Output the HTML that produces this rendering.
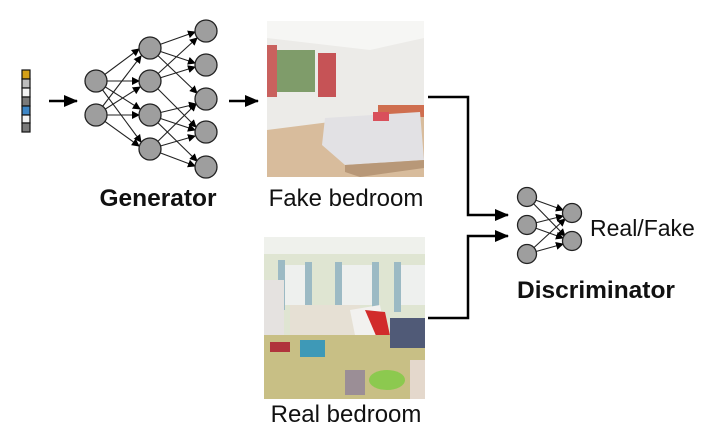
<!DOCTYPE html>
<html><head><style>
body{margin:0;background:#fff;width:711px;height:426px;overflow:hidden}
text{font-family:"Liberation Sans",Arial,sans-serif;fill:#111}
</style></head><body>
<svg width="711" height="426" viewBox="0 0 711 426">
<defs>
<marker id="a" markerWidth="8" markerHeight="8" refX="7" refY="4" orient="auto" markerUnits="userSpaceOnUse"><path d="M0,0 L8,4 L0,8z" fill="#000"/></marker>
<marker id="A" markerWidth="14" markerHeight="12" refX="13" refY="6" orient="auto" markerUnits="userSpaceOnUse"><path d="M0,0 L14,6 L0,12z" fill="#000"/></marker>
</defs>
<g stroke="#111" stroke-width="1.2">
<rect x="22" y="70" width="8" height="9" fill="#d4a017"/>
<rect x="22" y="79" width="8" height="9" fill="#bdbdbd"/>
<rect x="22" y="88" width="8" height="9" fill="#f2f2f2"/>
<rect x="22" y="97" width="8" height="9" fill="#7a7a7a"/>
<rect x="22" y="106" width="8" height="9" fill="#3d86c6"/>
<rect x="22" y="115" width="8" height="8" fill="#f2f2f2"/>
<rect x="22" y="123" width="8" height="9" fill="#7a7a7a"/>
</g>
<line x1="49" y1="101" x2="77" y2="101" stroke="#000" stroke-width="2.5" marker-end="url(#A)"/>
<line x1="229" y1="101" x2="258" y2="101" stroke="#000" stroke-width="2.5" marker-end="url(#A)"/>
<g stroke="#222" stroke-width="1.1" marker-end="url(#a)">
<line x1="96" y1="81" x2="139" y2="49"/><line x1="96" y1="81" x2="139" y2="81"/><line x1="96" y1="81" x2="140" y2="109"/><line x1="96" y1="81" x2="141" y2="142"/>
<line x1="96" y1="115" x2="141" y2="56"/><line x1="96" y1="115" x2="140" y2="87"/><line x1="96" y1="115" x2="139" y2="115"/><line x1="96" y1="115" x2="139" y2="146"/>
<line x1="150" y1="48" x2="195" y2="32"/><line x1="150" y1="48" x2="195" y2="63"/><line x1="150" y1="48" x2="197" y2="93"/>
<line x1="150" y1="81" x2="197" y2="38"/><line x1="150" y1="81" x2="195" y2="67"/><line x1="150" y1="81" x2="196" y2="127"/>
<line x1="150" y1="115" x2="196" y2="104"/><line x1="150" y1="115" x2="195" y2="130"/><line x1="150" y1="115" x2="197" y2="161"/>
<line x1="150" y1="149" x2="196" y2="104"/><line x1="150" y1="149" x2="195" y2="136"/><line x1="150" y1="149" x2="195" y2="166"/>
</g>
<g fill="#9e9e9e" stroke="#222" stroke-width="1.3">
<circle cx="96" cy="81" r="11"/><circle cx="96" cy="115" r="11"/>
<circle cx="150" cy="48" r="11"/><circle cx="150" cy="81" r="11"/><circle cx="150" cy="115" r="11"/><circle cx="150" cy="149" r="11"/>
<circle cx="206" cy="31" r="11"/><circle cx="206" cy="65" r="11"/><circle cx="206" cy="99" r="11"/><circle cx="206" cy="132" r="11"/><circle cx="206" cy="167" r="11"/>
</g>
<text x="158" y="206" font-size="24.5" font-weight="bold" text-anchor="middle">Generator</text>
<g>
<rect x="267" y="21" width="157" height="156" fill="#ecebe8"/>
<polygon points="267,21 424,21 424,38 370,50 267,38" fill="#f6f6f4"/>
<rect x="275" y="50" width="40" height="42" fill="#7f9c6a"/>
<rect x="267" y="45" width="10" height="52" fill="#c9615e"/>
<rect x="318" y="53" width="18" height="44" fill="#c65356"/>
<polygon points="267,130 424,110 424,177 267,177" fill="#d8bc9c"/>
<rect x="378" y="105" width="46" height="12" fill="#cf6e4f"/>
<polygon points="325,118 420,112 424,160 345,165 322,145" fill="#e2e1e4"/>
<rect x="373" y="112" width="16" height="9" fill="#d9505b"/>
<polygon points="345,165 424,160 424,168 360,177 345,172" fill="#b89878"/>
</g>
<text x="346" y="206" font-size="24" text-anchor="middle">Fake bedroom</text>
<g>
<rect x="264" y="237" width="161" height="162" fill="#dfe5d2"/>
<rect x="264" y="237" width="161" height="17" fill="#eff1ec"/>
<rect x="284" y="265" width="28" height="40" fill="#eef0ee"/>
<rect x="342" y="265" width="30" height="40" fill="#eef0ee"/>
<rect x="400" y="265" width="25" height="40" fill="#eef0ee"/>
<rect x="278" y="260" width="7" height="50" fill="#9cbac4"/>
<rect x="305" y="262" width="7" height="50" fill="#9cbac4"/>
<rect x="335" y="262" width="7" height="50" fill="#9cbac4"/>
<rect x="372" y="262" width="7" height="50" fill="#9cbac4"/>
<rect x="394" y="262" width="7" height="50" fill="#9cbac4"/>
<rect x="264" y="280" width="20" height="55" fill="#e5e2e0"/>
<rect x="290" y="305" width="70" height="30" fill="#e6e0d4"/>
<polygon points="350,310 380,305 390,355 360,360" fill="#f2f1ef"/>
<polygon points="365,310 385,312 392,345 380,345" fill="#d12b2b"/>
<rect x="264" y="335" width="161" height="64" fill="#c8bf85"/>
<rect x="300" y="340" width="25" height="17" fill="#3e99b7"/>
<rect x="270" y="342" width="20" height="10" fill="#b0343c"/>
<rect x="390" y="318" width="35" height="30" fill="#505a77"/>
<ellipse cx="387" cy="380" rx="18" ry="10" fill="#8cc94f"/>
<rect x="345" y="370" width="20" height="25" fill="#9b8e96"/>
<rect x="410" y="360" width="15" height="39" fill="#e4d8cc"/>
</g>
<text x="346" y="422" font-size="24" text-anchor="middle">Real bedroom</text>
<polyline points="428,97 468,97 468,215 508,215" fill="none" stroke="#000" stroke-width="2.5" marker-end="url(#A)"/>
<polyline points="428,318 468,318 468,236 508,236" fill="none" stroke="#000" stroke-width="2.5" marker-end="url(#A)"/>
<g stroke="#222" stroke-width="1.1" marker-end="url(#a)">
<line x1="527" y1="197" x2="563" y2="210"/><line x1="527" y1="197" x2="565" y2="236"/>
<line x1="527" y1="225" x2="563" y2="216"/><line x1="527" y1="225" x2="563" y2="238"/>
<line x1="527" y1="254" x2="565" y2="219"/><line x1="527" y1="254" x2="563" y2="244"/>
</g>
<g fill="#9e9e9e" stroke="#222" stroke-width="1.3">
<circle cx="527" cy="197" r="9.5"/><circle cx="527" cy="225" r="9.5"/><circle cx="527" cy="254" r="9.5"/>
<circle cx="572" cy="213" r="9.5"/><circle cx="572" cy="241" r="9.5"/>
</g>
<text x="590" y="236" font-size="23">Real/Fake</text>
<text x="596" y="298" font-size="24.5" font-weight="bold" text-anchor="middle">Discriminator</text>
</svg>
</body></html>
